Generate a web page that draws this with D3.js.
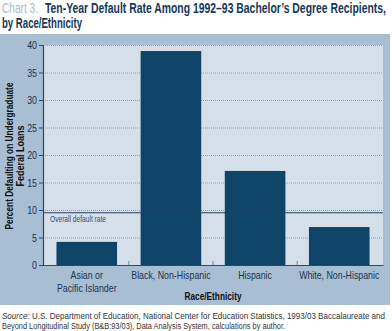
<!DOCTYPE html>
<html><head><meta charset="utf-8">
<script src="https://cdn.jsdelivr.net/npm/d3@7"></script>
<style>
body{margin:0;background:#fff;}
svg{display:block;}
text{font-family:"Liberation Sans Narrow","Arial Narrow","Liberation Sans",Arial,sans-serif;}
</style></head>
<body><svg id="c" width="392" height="331"></svg>
<script>
const categories = ["Asian or\nPacific Islander", "Black, Non-Hispanic", "Hispanic", "White, Non-Hispanic"];
const values = [4.2, 38.9, 17.1, 6.9];
const overallRate = 9.5;
const yTicks = [0, 5, 10, 15, 20, 25, 30, 35, 40];

const svg = d3.select("#c");
const m = {left: 43, right: 383, top: 45, bottom: 265};
const navy = "#0d4468", text = "#1b3550";
const CONDENSE = 0.8;
function fit(sel, w) {
  if (w === undefined) {
    const nat = sel.node().getComputedTextLength();
    w = nat * CONDENSE;
  }
  sel.attr("textLength", w).attr("lengthAdjust", "spacingAndGlyphs");
  return sel;
}

// title
fit(svg.append("text").attr("x", 2).attr("y", 13).attr("font-size", 14.5)
  .attr("fill", "#a9bdd0").text("Chart 3."), 36);
fit(svg.append("text").attr("x", 45).attr("y", 13).attr("font-size", 14.5).attr("font-weight", "bold")
  .attr("fill", "#16375a").text("Ten-Year Default Rate Among 1992\u201393 Bachelor\u2019s Degree Recipients,"), 341);
fit(svg.append("text").attr("x", 2).attr("y", 28).attr("font-size", 14.5).attr("font-weight", "bold")
  .attr("fill", "#16375a").text("by Race/Ethnicity"), 80);

// panel
svg.append("rect").attr("x", 0).attr("y", 34).attr("width", 390).attr("height", 271).attr("fill", "#a7bed3");

const x = d3.scaleBand().domain(categories).range([m.left, m.right]).paddingInner(0.28).paddingOuter(0.16);
const y = d3.scaleLinear().domain([0, 40]).range([m.bottom, m.top]);

svg.append("rect").attr("x", m.left).attr("y", m.top).attr("width", m.right - m.left)
  .attr("height", m.bottom - m.top).attr("fill", "#d5dfe9");

// gridlines
svg.append("g").selectAll("line").data(yTicks.filter(d => d > 0)).join("line")
  .attr("x1", m.left).attr("x2", m.right).attr("y1", d => y(d) + 0.5).attr("y2", d => y(d) + 0.5)
  .attr("stroke", "#8c9fb3").attr("stroke-width", 1).attr("stroke-dasharray", "1,1");

// bars
svg.append("g").selectAll("rect").data(values).join("rect")
  .attr("x", (d, i) => x(categories[i])).attr("width", x.bandwidth())
  .attr("y", d => y(d)).attr("height", d => y(0) - y(d)).attr("fill", navy);

// overall rate line
svg.append("line").attr("x1", m.left).attr("x2", m.right).attr("y1", y(overallRate)).attr("y2", y(overallRate))
  .attr("stroke", "#1f3f60").attr("stroke-width", 1.2);
fit(svg.append("text").attr("x", 50).attr("y", y(overallRate) + 9.5).attr("font-size", 8.5)
  .attr("fill", "#2a5580").text("Overall default rate"), 56);

// y axis
const ya = svg.append("g").attr("transform", `translate(${m.left},0)`)
  .call(d3.axisLeft(y).tickValues(yTicks).tickSize(4).tickPadding(2));
ya.select(".domain").attr("stroke", "#2b4a6a").attr("stroke-width", 1.2);
ya.selectAll(".tick line").attr("stroke", "#2b4a6a");
ya.selectAll(".tick text").attr("font-size", 11).attr("fill", text)
  .attr("font-family", '"Liberation Sans Narrow","Arial Narrow","Liberation Sans",sans-serif')
  .each(function() { fit(d3.select(this)); });

// x axis
const xa = svg.append("g").attr("transform", `translate(0,${m.bottom})`)
  .call(d3.axisBottom(x).tickSize(0).tickFormat(""));
xa.select(".domain").attr("stroke", "#2b4a6a").attr("stroke-width", 1.2);
// boundary ticks
const bounds = categories.map(c => x(c) + x.bandwidth() + x.step() * x.paddingInner() / 2);
svg.append("g").selectAll("line").data(bounds.slice(0, 3)).join("line")
  .attr("x1", d => d).attr("x2", d => d).attr("y1", m.bottom - 4).attr("y2", m.bottom)
  .attr("stroke", "#6d86a0");

// x labels
categories.forEach(c => {
  const lines = c.split("\n");
  lines.forEach((l, i) => {
    const t = svg.append("text").attr("x", x(c) + x.bandwidth() / 2).attr("y", 279 + i * 13)
      .attr("text-anchor", "middle").attr("font-size", 11).attr("fill", text).text(l);
    fit(t);
  });
});
fit(svg.append("text").attr("x", 213).attr("y", 300).attr("text-anchor", "middle").attr("font-size", 11)
  .attr("font-weight", "bold").attr("fill", "#111").text("Race/Ethnicity"), 57);

// y title
fit(svg.append("text").attr("transform", "translate(13,156) rotate(-90)").attr("text-anchor", "middle")
  .attr("font-size", 11).attr("font-weight", "bold").attr("fill", "#111")
  .text("Percent Defaulting on Undergraduate"), 147);
fit(svg.append("text").attr("transform", "translate(24,156) rotate(-90)").attr("text-anchor", "middle")
  .attr("font-size", 11).attr("font-weight", "bold").attr("fill", "#111")
  .text("Federal Loans"), 61);

// source
const s1 = svg.append("text").attr("x", 2).attr("y", 319).attr("font-size", 8.3).attr("fill", "#333");
s1.append("tspan").attr("font-style", "italic").text("Source: ");
s1.append("tspan").text("U.S. Department of Education, National Center for Education Statistics, 1993/03 Baccalaureate and");
fit(s1, 383);
fit(svg.append("text").attr("x", 2).attr("y", 329).attr("font-size", 8.3).attr("fill", "#333")
  .text("Beyond Longitudinal Study (B&B:93/03), Data Analysis System, calculations by author."), 283);
</script></body></html>
